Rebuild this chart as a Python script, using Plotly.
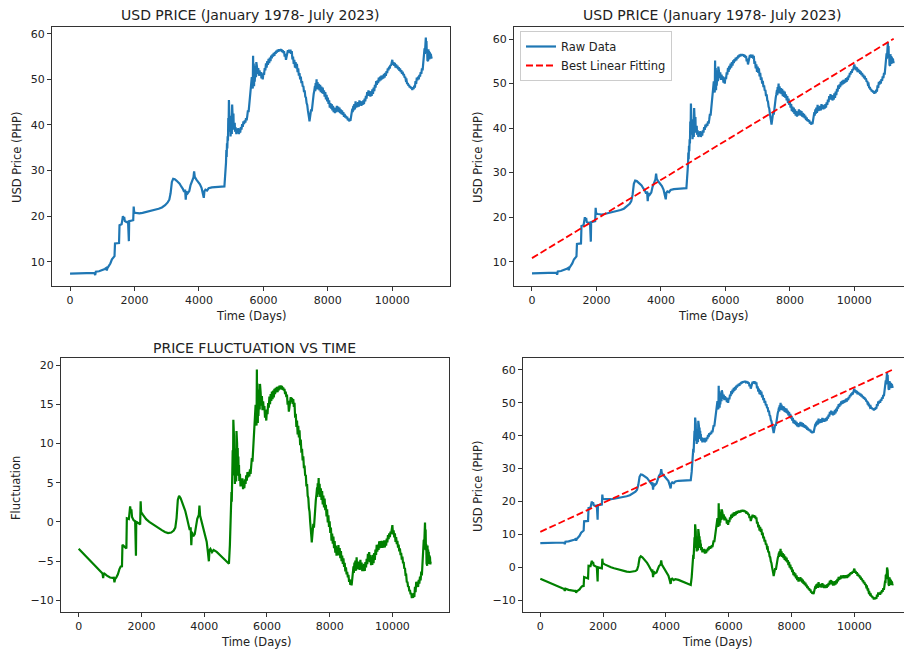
import plotly.graph_objects as go

# ---- USD/PHP closing price, trading-day index (Jan 1978 - Jul 2023) ----
# 1978 - mid 1997
days_early = [
    0, 200, 400, 600, 700, 760, 780, 800, 900, 1000, 1080, 1120, 1140, 1160, 1200,
    1250, 1300, 1340, 1380, 1395, 1520, 1535, 1600, 1640, 1660, 1680, 1700, 1750,
    1800, 1825, 1835, 1900, 1960, 1975, 1990, 2050, 2150, 2250, 2350, 2450, 2550,
    2650, 2750, 2850, 2950, 3030, 3080, 3120, 3160, 3200, 3250, 3300, 3350, 3400,
    3450, 3500, 3540, 3570, 3590, 3610, 3650, 3700, 3740, 3780, 3830, 3850, 3870,
    3920, 3980, 4030, 4080, 4120, 4150, 4170, 4200, 4250, 4300, 4400, 4500, 4600,
    4700, 4790,
]
price_early = [
    7.37, 7.38, 7.40, 7.45, 7.50, 7.55, 7.05, 7.80, 7.90, 8.10, 8.40, 8.60, 8.10, 8.60, 9.00,
    9.60, 10.50, 11.00, 11.20, 14.00, 14.10, 18.00, 18.20, 20.00, 19.40, 19.80, 18.90, 18.70,
    18.80, 14.50, 18.90, 19.00, 19.10, 22.10, 20.80, 20.70, 20.60, 20.70, 20.85, 21.00, 21.20,
    21.40, 21.60, 21.90, 22.40, 23.00, 23.60, 25.00, 27.50, 28.20, 28.10, 27.80, 27.50, 27.10,
    26.50, 26.00, 25.30, 25.80, 23.60, 25.40, 25.00, 25.50, 26.80, 27.80, 28.50, 29.80, 28.60,
    28.00, 27.40, 27.00, 26.20, 25.00, 24.00, 25.50, 25.80, 25.60, 26.10, 26.30, 26.40, 26.40,
    26.45, 26.50,
]

# mid 1997 - 2023 (volatile period, sampled more finely)
days_late = [
    4820, 4840, 4850, 4860, 4870, 4880, 4890, 4900, 4910, 4920, 4930, 4940, 4950, 4960,
    4970, 4980, 4990, 5000, 5010, 5020, 5030, 5040, 5050, 5060, 5070, 5080, 5090, 5100,
    5110, 5120, 5140, 5160, 5180, 5200, 5220, 5240, 5260, 5280, 5300, 5320, 5340, 5360,
    5380, 5400, 5420, 5440, 5460, 5480, 5500, 5520, 5540, 5560, 5580, 5600, 5620, 5640,
    5650, 5660, 5670, 5680, 5690, 5700, 5710, 5720, 5730, 5740, 5750, 5760, 5770, 5780,
    5790, 5800, 5820, 5840, 5860, 5880, 5900, 5920, 5940, 5960, 5980, 6000, 6020, 6040,
    6060, 6080, 6100, 6120, 6140, 6160, 6180, 6200, 6220, 6240, 6260, 6280, 6300, 6320,
    6340, 6360, 6380, 6400, 6420, 6440, 6460, 6480, 6500, 6520, 6540, 6560, 6580, 6600,
    6620, 6640, 6660, 6680, 6700, 6720, 6740, 6760, 6780, 6800, 6820, 6840, 6860, 6880,
    6900, 6920, 6940, 6960, 6980, 7000, 7020, 7040, 7060, 7080, 7100, 7120, 7140, 7160,
    7180, 7200, 7220, 7240, 7260, 7280, 7300, 7320, 7340, 7360, 7380, 7400, 7420, 7430,
    7440, 7460, 7480, 7500, 7520, 7540, 7560, 7580, 7600, 7610, 7620, 7630, 7650, 7660,
    7680, 7700, 7720, 7740, 7760, 7780, 7800, 7820, 7840, 7860, 7880, 7900, 7920, 7940,
    7960, 7980, 8000, 8020, 8040, 8060, 8080, 8100, 8120, 8140, 8160, 8180, 8200, 8220,
    8240, 8260, 8280, 8300, 8320, 8340, 8360, 8380, 8400, 8420, 8440, 8460, 8480, 8500,
    8520, 8540, 8560, 8580, 8600, 8620, 8640, 8660, 8680, 8700, 8720, 8740, 8760, 8770,
    8790, 8800, 8820, 8840, 8860, 8880, 8900, 8920, 8940, 8960, 8980, 9000, 9020, 9040,
    9060, 9080, 9100, 9120, 9140, 9160, 9180, 9200, 9220, 9240, 9260, 9280, 9300, 9320,
    9340, 9360, 9380, 9400, 9420, 9440, 9460, 9480, 9500, 9520, 9540, 9560, 9580, 9600,
    9620, 9640, 9660, 9680, 9700, 9720, 9740, 9760, 9780, 9800, 9820, 9840, 9860, 9880,
    9900, 9920, 9940, 9960, 9980, 10000, 10020, 10040, 10060, 10080, 10100, 10120, 10140,
    10160, 10180, 10200, 10220, 10240, 10260, 10280, 10300, 10320, 10340, 10360, 10380,
    10400, 10420, 10440, 10460, 10480, 10500, 10520, 10540, 10560, 10580, 10600, 10620,
    10640, 10660, 10680, 10700, 10720, 10740, 10760, 10780, 10800, 10820, 10840, 10860,
    10880, 10900, 10920, 10940, 10960, 10980, 10990, 11000, 11010, 11020, 11030, 11040,
    11050, 11060, 11070, 11080, 11090, 11100, 11110, 11120, 11130, 11140, 11150, 11160,
    11170, 11180, 11190, 11200, 11210, 11220,
]
price_late = [
    29.0, 31.8, 34.5, 33.0, 36.0, 34.8, 37.5, 36.5, 41.5, 39.0, 45.5, 40.0, 43.5, 38.5,
    42.0, 37.5, 41.5, 39.0, 40.5, 38.0, 44.5, 40.5, 43.0, 39.5, 42.5, 39.0, 41.5, 39.5,
    40.5, 38.5, 39.5, 38.0, 39.0, 38.2, 39.3, 38.0, 38.8, 38.3, 39.5, 39.0, 40.2, 39.6,
    40.8, 40.2, 41.0, 40.5, 41.5, 41.0, 42.0, 43.2, 42.8, 44.5, 45.5, 47.5, 48.5, 50.5,
    48.5, 52.0, 48.0, 55.2, 49.0, 53.5, 48.5, 52.5, 49.5, 52.0, 50.0, 53.0, 50.5, 53.8,
    51.5, 52.8, 51.2, 52.5, 50.8, 52.0, 51.0, 51.6, 50.2, 50.8, 50.0, 51.5, 51.0, 52.5,
    52.0, 53.5, 52.6, 54.0, 53.2, 54.5, 53.6, 54.8, 54.0, 55.2, 54.6, 55.5, 55.0, 55.8,
    55.2, 56.0, 55.6, 56.3, 55.9, 56.5, 56.1, 56.6, 56.2, 56.6, 56.3, 56.6, 56.0, 56.4,
    55.8, 56.2, 55.0, 55.6, 54.3, 55.2, 55.8, 56.4, 55.9, 56.5, 55.8, 56.5, 55.6, 56.2,
    54.4, 55.0, 53.4, 54.3, 52.6, 53.8, 52.4, 53.4, 51.6, 52.4, 50.8, 51.4, 50.0, 50.6,
    49.2, 49.6, 48.4, 48.6, 47.2, 47.6, 46.2, 46.0, 44.8, 44.4, 43.2, 42.6, 41.4, 40.8,
    41.6, 42.2, 43.4, 43.0, 44.8, 45.2, 46.8, 47.6, 48.6, 47.4, 49.2, 47.8, 50.0, 48.0,
    49.4, 47.8, 49.0, 47.6, 48.8, 47.2, 48.4, 47.0, 48.2, 46.8, 47.6, 46.2, 47.2, 45.6,
    46.6, 45.2, 46.0, 44.6, 45.4, 43.8, 44.8, 43.6, 44.6, 43.2, 44.2, 42.8, 43.8, 42.6,
    43.6, 42.8, 44.2, 43.0, 44.0, 42.8, 43.8, 42.6, 43.4, 42.4, 43.2, 42.2, 42.8, 41.8,
    42.4, 41.6, 42.0, 41.4, 41.8, 41.0, 41.4, 40.8, 41.2, 40.9, 41.8, 42.4, 43.6, 42.8,
    44.2, 43.2, 44.6, 43.4, 45.2, 43.8, 44.8, 43.9, 45.0, 44.0, 45.4, 44.3, 45.2, 44.2,
    45.0, 44.4, 45.4, 44.6, 45.8, 45.2, 46.4, 45.8, 47.2, 46.4, 47.6, 46.4, 47.4, 46.2,
    47.2, 46.4, 47.8, 46.8, 48.2, 47.4, 48.8, 48.2, 49.6, 48.8, 49.8, 49.2, 50.4, 49.6,
    50.6, 49.8, 50.8, 50.0, 50.9, 50.2, 51.2, 50.4, 51.4, 50.8, 51.8, 51.4, 52.4, 52.0,
    52.8, 52.4, 53.2, 53.0, 53.8, 54.3, 53.2, 53.8, 53.0, 53.6, 52.6, 53.3, 52.5,
    53.0, 52.2, 52.7, 51.9, 52.4, 51.6, 52.0, 51.2, 51.7, 50.9, 51.2, 50.4,
    50.6, 49.8, 49.9, 49.0, 49.2, 48.6, 48.8, 48.2, 48.5, 48.0, 48.3, 47.7,
    48.2, 47.9, 48.6, 48.2, 49.6, 49.0, 50.4, 49.8, 50.6, 50.0, 51.0, 50.6,
    51.6, 51.2, 52.4, 52.0, 53.6, 55.0, 54.2, 56.8, 55.6, 57.2, 56.2, 59.2,
    57.0, 58.4, 55.8, 56.6, 54.2, 55.8, 54.0, 56.6, 54.6, 56.2, 54.4, 56.0,
    54.6, 55.6, 54.8, 55.4, 54.6, 55.0,
]

days = days_early + days_late
usd_price = price_early + price_late

# least-squares line through the price series
FIT_INTERCEPT = 10.8
FIT_SLOPE = 0.00439

fit_days = [days[0], days[-1]]
fit_price = [FIT_INTERCEPT + FIT_SLOPE * d for d in fit_days]
fluctuation = [p - (FIT_INTERCEPT + FIT_SLOPE * d) for d, p in zip(days, usd_price)]

x_ticks = [0, 2000, 4000, 6000, 8000, 10000]

BLUE = "#1f77b4"
GREEN = "green"
RED = "#ff0000"
FONT = "DejaVu Sans"
W, H = 904, 653
LW = 2.2

fig = go.Figure()

# top-left: raw price
fig.add_trace(go.Scatter(x=days, y=usd_price, mode="lines", line=dict(color=BLUE, width=LW),
                         xaxis="x", yaxis="y", showlegend=False))
# top-right: raw price + linear fit
fig.add_trace(go.Scatter(x=days, y=usd_price, mode="lines", line=dict(color=BLUE, width=LW),
                         xaxis="x2", yaxis="y2", name="Raw Data"))
fig.add_trace(go.Scatter(x=fit_days, y=fit_price, mode="lines",
                         line=dict(color=RED, width=1.8, dash="7px,3px"),
                         xaxis="x2", yaxis="y2", name="Best Linear Fitting"))
# bottom-left: fluctuation
fig.add_trace(go.Scatter(x=days, y=fluctuation, mode="lines", line=dict(color=GREEN, width=LW),
                         xaxis="x3", yaxis="y3", showlegend=False))
# bottom-right: everything together
fig.add_trace(go.Scatter(x=days, y=usd_price, mode="lines", line=dict(color=BLUE, width=LW),
                         xaxis="x4", yaxis="y4", showlegend=False))
fig.add_trace(go.Scatter(x=fit_days, y=fit_price, mode="lines",
                         line=dict(color=RED, width=1.8, dash="7px,3px"),
                         xaxis="x4", yaxis="y4", showlegend=False))
fig.add_trace(go.Scatter(x=days, y=fluctuation, mode="lines", line=dict(color=GREEN, width=LW),
                         xaxis="x4", yaxis="y4", showlegend=False))


def px_x(p):
    return p / W


def px_y(p):
    return 1 - p / H


def axis(domain, rng, anchor, mirror=True, tickvals=None):
    d = dict(domain=domain, range=rng, anchor=anchor, showline=True, linecolor="#333333",
             linewidth=1, mirror=mirror, ticks="outside", ticklen=4, tickwidth=1,
             tickcolor="#333333", showgrid=False, zeroline=False,
             tickfont=dict(family=FONT, size=11, color="#222222"))
    if tickvals is not None:
        d["tickvals"] = tickvals
        d["tickformat"] = "d"
    return d


top_dom = [px_y(286), px_y(27)]
bot_dom = [px_y(612), px_y(358)]

fig.update_layout(
    width=W, height=H, margin=dict(l=0, r=0, t=0, b=0),
    paper_bgcolor="white", plot_bgcolor="white",
    font=dict(family=FONT, size=11, color="#222222"),
    xaxis=axis([px_x(52), px_x(450)], [-560, 11790], "y", tickvals=x_ticks),
    yaxis=axis(top_dom, [4.66, 61.5], "x", tickvals=[10, 20, 30, 40, 50, 60]),
    xaxis2=axis([px_x(514), 1.0], [-558, 11540], "y2", tickvals=x_ticks),
    yaxis2=axis(top_dom, [4.54, 62.7], "x2", mirror=False, tickvals=[10, 20, 30, 40, 50, 60]),
    xaxis3=axis([px_x(61), px_x(449)], [-564, 11805], "y3", tickvals=x_ticks),
    yaxis3=axis(bot_dom, [-11.49, 20.93], "x3", tickvals=[-10, -5, 0, 5, 10, 15, 20]),
    xaxis4=axis([px_x(523), 1.0], [-551, 11580], "y4", tickvals=x_ticks),
    yaxis4=axis(bot_dom, [-13.56, 63.6], "x4", mirror=False,
                tickvals=[-10, 0, 10, 20, 30, 40, 50, 60]),
    legend=dict(x=px_x(520), y=px_y(31), xanchor="left", yanchor="top",
                bgcolor="rgba(255,255,255,0.8)", bordercolor="#cccccc", borderwidth=1,
                font=dict(family=FONT, size=11.5, color="#222222"), tracegroupgap=0),
)


def label(text, x, y, size=11.5, angle=0):
    fig.add_annotation(text=text, x=px_x(x), y=px_y(y), xref="paper", yref="paper",
                       showarrow=False, textangle=angle, xanchor="center", yanchor="middle",
                       font=dict(family=FONT, size=size, color="#222222"))


TITLE = "USD PRICE (January 1978- July 2023)"
label(TITLE, 250, 15, size=14)
label(TITLE, 712, 15, size=14)
label("PRICE FLUCTUATION VS TIME", 254, 348, size=14)

label("Time (Days)", 251, 316)
label("Time (Days)", 713, 316)
label("Time (Days)", 256, 642)
label("Time (Days)", 717, 642)

label("USD Price (PHP)", 17, 158, angle=-90)
label("USD Price (PHP)", 478, 158, angle=-90)
label("Fluctuation", 16, 488, angle=-90)
label("USD Price (PHP)", 478, 487, angle=-90)

fig.write_html("out.html")
